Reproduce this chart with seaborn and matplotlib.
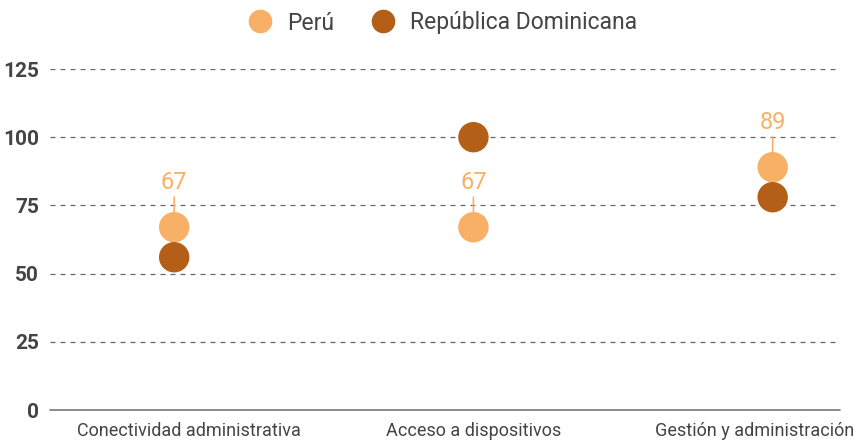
import numpy as np
import pandas as pd
import matplotlib
matplotlib.use("Agg")
import matplotlib.pyplot as plt
import matplotlib.transforms as mtransforms
import seaborn as sns

categorias = ["Conectividad administrativa", "Acceso a dispositivos", "Gestión y administración"]
peru = [67, 67, 89]
rep_dom = [56, 100, 78]
paises = ["Perú", "República Dominicana"]
colores = ["#F8B066", "#B35F18"]
yticks = [0, 25, 50, 75, 100, 125]

df = pd.DataFrame({
    "cat": categorias * 2,
    "x": list(range(len(categorias))) * 2,
    "valor": peru + rep_dom,
    "pais": [paises[0]] * 3 + [paises[1]] * 3,
})

sns.set_style("white")
plt.rcParams["font.family"] = ["Roboto", "DejaVu Sans"]

fig = plt.figure(figsize=(8.62, 4.45), dpi=100)
ax = fig.add_axes([50 / 862, 1 - 410 / 445, 790 / 862, 341 / 445])

# lineas de grilla punteadas
for y in yticks[1:]:
    ax.axhline(y, color="#666666", lw=0.9, ls=(0, (4, 4)), zorder=0)
ax.axhline(0, color="#777777", lw=1.2, zorder=0, clip_on=False)

sns.scatterplot(data=df, x="x", y="valor", hue="pais", palette=colores,
                s=480, edgecolor="none", ax=ax, zorder=3, legend=False)

# etiquetas solo para Perú
for i, v in enumerate(peru):
    ax.annotate(str(v), xy=(i, v), xytext=(0, 24), textcoords="offset points",
                ha="center", va="bottom", fontsize=17, color=colores[0],
                arrowprops=dict(arrowstyle="-", color=colores[0], lw=1.2,
                                shrinkA=0, shrinkB=11), zorder=4)

ax.set_xlim(-0.415, 2.225)
ax.set_ylim(0, 125)
ax.set_xticks(range(len(categorias)))
ax.set_xticklabels(categorias, fontsize=13, color="#444444")
ax.set_yticks(yticks)
ax.set_yticklabels([str(t) for t in yticks], fontsize=15, fontweight="bold", color="#444444")
ax.tick_params(axis="both", length=0)
ax.tick_params(axis="x", pad=9)
ax.tick_params(axis="y", pad=8)
ax.set_xlabel("")
ax.set_ylabel("")
for s in ax.spines.values():
    s.set_visible(False)

# desplazar etiquetas de los extremos como en el original
desplaz = [15, 0, -18]
for lab, dx in zip(ax.get_xticklabels(), desplaz):
    lab.set_transform(lab.get_transform() + mtransforms.ScaledTranslation(dx / 100, 0, fig.dpi_scale_trans))

# leyenda
handles = [plt.Line2D([], [], marker="o", ls="", markersize=16, color=c) for c in colores]
fig.legend(handles, paises, loc="center", bbox_to_anchor=(437 / 862, 1 - 23 / 445),
           ncol=2, frameon=False, fontsize=16.5, handletextpad=0.2, columnspacing=1.1,
           labelcolor="#444444")

fig.savefig("out.png", dpi=100)
